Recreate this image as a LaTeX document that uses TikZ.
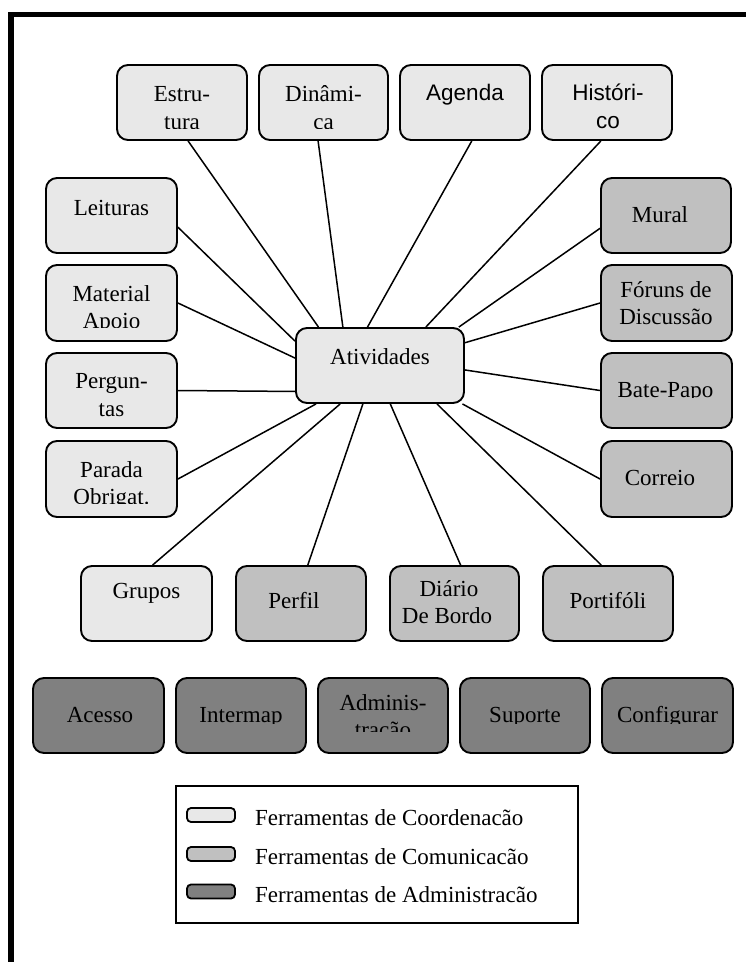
\documentclass[tikz,border=0pt]{standalone}
\usepackage{fontspec}
\setmainfont{Liberation Serif}
\newfontfamily\arialf{Liberation Sans}
\definecolor{coordc}{HTML}{E8E8E8}
\definecolor{commc}{HTML}{C0C0C0}
\definecolor{admc}{HTML}{808080}
\tikzset{
  tool/.style={draw=black, line width=1.9pt, rounded corners=11pt, inner sep=0pt},
  lbl/.style={anchor=base, inner sep=0pt, font=\fontsize{23}{27}\selectfont},
  slbl/.style={anchor=base, inner sep=0pt, font=\arialf\fontsize{22.5}{27}\selectfont},
  leglbl/.style={anchor=base west, inner sep=0pt, font=\fontsize{23}{27}\selectfont},
  lnk/.style={draw=black, line width=1.5pt},
  swatch/.style={draw=black, line width=1.8pt, rounded corners=4pt, inner sep=0pt, minimum width=48pt, minimum height=14pt},
}
\newcommand{\toolnode}[6]{\node[tool, fill=#6, minimum width=#4pt, minimum height=#5pt] (#1) at (#2,#3) {};}
\newcommand{\txt}[4]{\node[lbl] (#1) at (#2,#3) {#4};}
\begin{document}
\begin{tikzpicture}[x=1pt,y=-1pt]
\useasboundingbox (0,0) rectangle (746,962);
% frame
\draw[line width=5.5pt] (752,14.5) -- (11,14.5) -- (11,968);

% coordination boxes
\toolnode{estr}{182}{102.5}{130}{75}{coordc}
\toolnode{dina}{323.5}{102.5}{129}{75}{coordc}
\toolnode{agen}{465}{102.5}{130}{75}{coordc}
\toolnode{hist}{607}{102.5}{130}{75}{coordc}
\toolnode{leit}{111.5}{215.5}{131}{75}{coordc}
\toolnode{mate}{111.5}{303}{131}{76}{coordc}
\toolnode{perg}{111.5}{390.5}{131}{75}{coordc}
\toolnode{para}{111.5}{479}{131}{76}{coordc}
\toolnode{act}{380}{365.5}{168}{75}{coordc}
\toolnode{grup}{146.5}{603.5}{131}{75}{coordc}
% communication boxes
\toolnode{mural}{666}{215.5}{130}{75}{commc}
\toolnode{foru}{666.5}{303}{131}{76}{commc}
\toolnode{bate}{666.5}{390.5}{131}{75}{commc}
\toolnode{corr}{666.5}{479}{131}{76}{commc}
\toolnode{perf}{301}{603.5}{130}{75}{commc}
\toolnode{diar}{454.5}{603.5}{129}{75}{commc}
\toolnode{port}{608}{603.5}{130}{75}{commc}
% administration boxes
\toolnode{aces}{98.5}{715.5}{131}{75}{admc}
\toolnode{inte}{241}{715.5}{130}{75}{admc}
\toolnode{admi}{383}{715.5}{130}{75}{admc}
\toolnode{supo}{525}{715.5}{130}{75}{admc}
\toolnode{conf}{667.5}{715.5}{131}{75}{admc}

% texts
\begin{scope}
  \clip (117,66) rectangle (247,128);
  \txt{estrA}{182}{101}{Estru-}
  \txt{estrB}{182}{129}{tura}
\end{scope}
\begin{scope}
  \clip (259,66) rectangle (388,128);
  \txt{dinaA}{323.5}{101}{Dinâmi-}
  \txt{dinaB}{323.5}{129}{ca}
\end{scope}
\node[slbl] (agenA) at (465,100) {Agenda};
\begin{scope}
  \clip (542,66) rectangle (672,128);
  \node[slbl] (histA) at (608,100) {Históri-};
  \node[slbl] (histB) at (608,128.5) {co};
\end{scope}
\txt{leitA}{111.5}{215}{Leituras}
\begin{scope}
  \clip (46,266) rectangle (177,327);
  \txt{mateA}{111.5}{301}{Material}
  \txt{mateB}{111.5}{328.5}{Apoio}
\end{scope}
\txt{pergA}{111.5}{388}{Pergun-}
\txt{pergB}{111.5}{416}{tas}
\begin{scope}
  \clip (46,442) rectangle (177,503);
  \txt{paraA}{111.5}{477}{Parada}
  \txt{paraB}{111.5}{504}{Obrigat.}
\end{scope}
\txt{actA}{380}{364}{Atividades}
\begin{scope}
  \clip (601,179) rectangle (731,222);
  \txt{muralA}{660}{222.5}{Mural}
\end{scope}
\txt{foruA}{666}{297}{Fóruns de}
\txt{foruB}{666}{324}{Discussão}
\begin{scope}
  \clip (601,354) rectangle (732,397);
  \txt{bateA}{665.5}{397.5}{Bate-Papo}
\end{scope}
\txt{corrA}{660}{485}{Correio}
\txt{grupA}{146.5}{598}{Grupos}
\txt{perfA}{294}{608}{Perfil}
\txt{diarA}{449}{596}{Diário}
\txt{diarB}{447}{623}{De Bordo}
\txt{portA}{608}{608}{Portifóli}
\txt{acesA}{100}{722}{Acesso}
\begin{scope}
  \clip (176,679) rectangle (306,723.5);
  \txt{inteA}{241}{722.5}{Intermap}
\end{scope}
\begin{scope}
  \clip (318,679) rectangle (448,731);
  \txt{admiA}{383}{710}{Adminis-}
  \txt{admiB}{383}{737}{tração}
\end{scope}
\begin{scope}
  \clip (460,679) rectangle (590,723.5);
  \txt{supoA}{525}{722.5}{Suporte}
\end{scope}
\begin{scope}
  \clip (602,679) rectangle (733,723.5);
  \txt{confA}{667.5}{722.5}{Configurar}
\end{scope}

% connectors
\draw[lnk] (act.148.6) -- (estr.-81);
\draw[lnk] (act.134.6) -- (dina.-98.3);
\draw[lnk] (act.108.7) -- (agen.-80.9);
\draw[lnk] (act.40.5) -- (hist.-99.1);
\draw[lnk] (act.26.6) -- (mural.-169.1);
\draw[lnk] (act.15) -- (foru.west);
\draw[lnk] (act.-3.1) -- (bate.west);
\draw[lnk] (act.-25.7) -- (corr.west);
\draw[lnk] (act.-34.5) -- (port.100.6);
\draw[lnk] (act.-75) -- (diar.81.7);
\draw[lnk] (act.-114.4) -- (perf.80.9);
\draw[lnk] (act.-136.8) -- (grup.81.7);
\draw[lnk] (act.-149.2) -- (para.east);
\draw[lnk] (act.-163.7) -- (perg.east);
\draw[lnk] (act.175.6) -- (mate.east);
\draw[lnk] (act.164.4) -- (leit.-10.8);

% legend
\node[draw=black, line width=1.8pt, minimum width=402pt, minimum height=137pt, inner sep=0pt] (legend) at (377,854.5) {};
\node[swatch, fill=coordc] (sw1) at (211,815) {};
\node[swatch, fill=commc] (sw2) at (211,854) {};
\node[swatch, fill=admc] (sw3) at (211,891.5) {};
\node[leglbl] (lg1) at (255,825) {Ferramentas de Coordenacão};
\node[leglbl] (lg2) at (255,864) {Ferramentas de Comunicacão};
\node[leglbl] (lg3) at (255,902) {Ferramentas de Administracão};
\end{tikzpicture}
\end{document}
